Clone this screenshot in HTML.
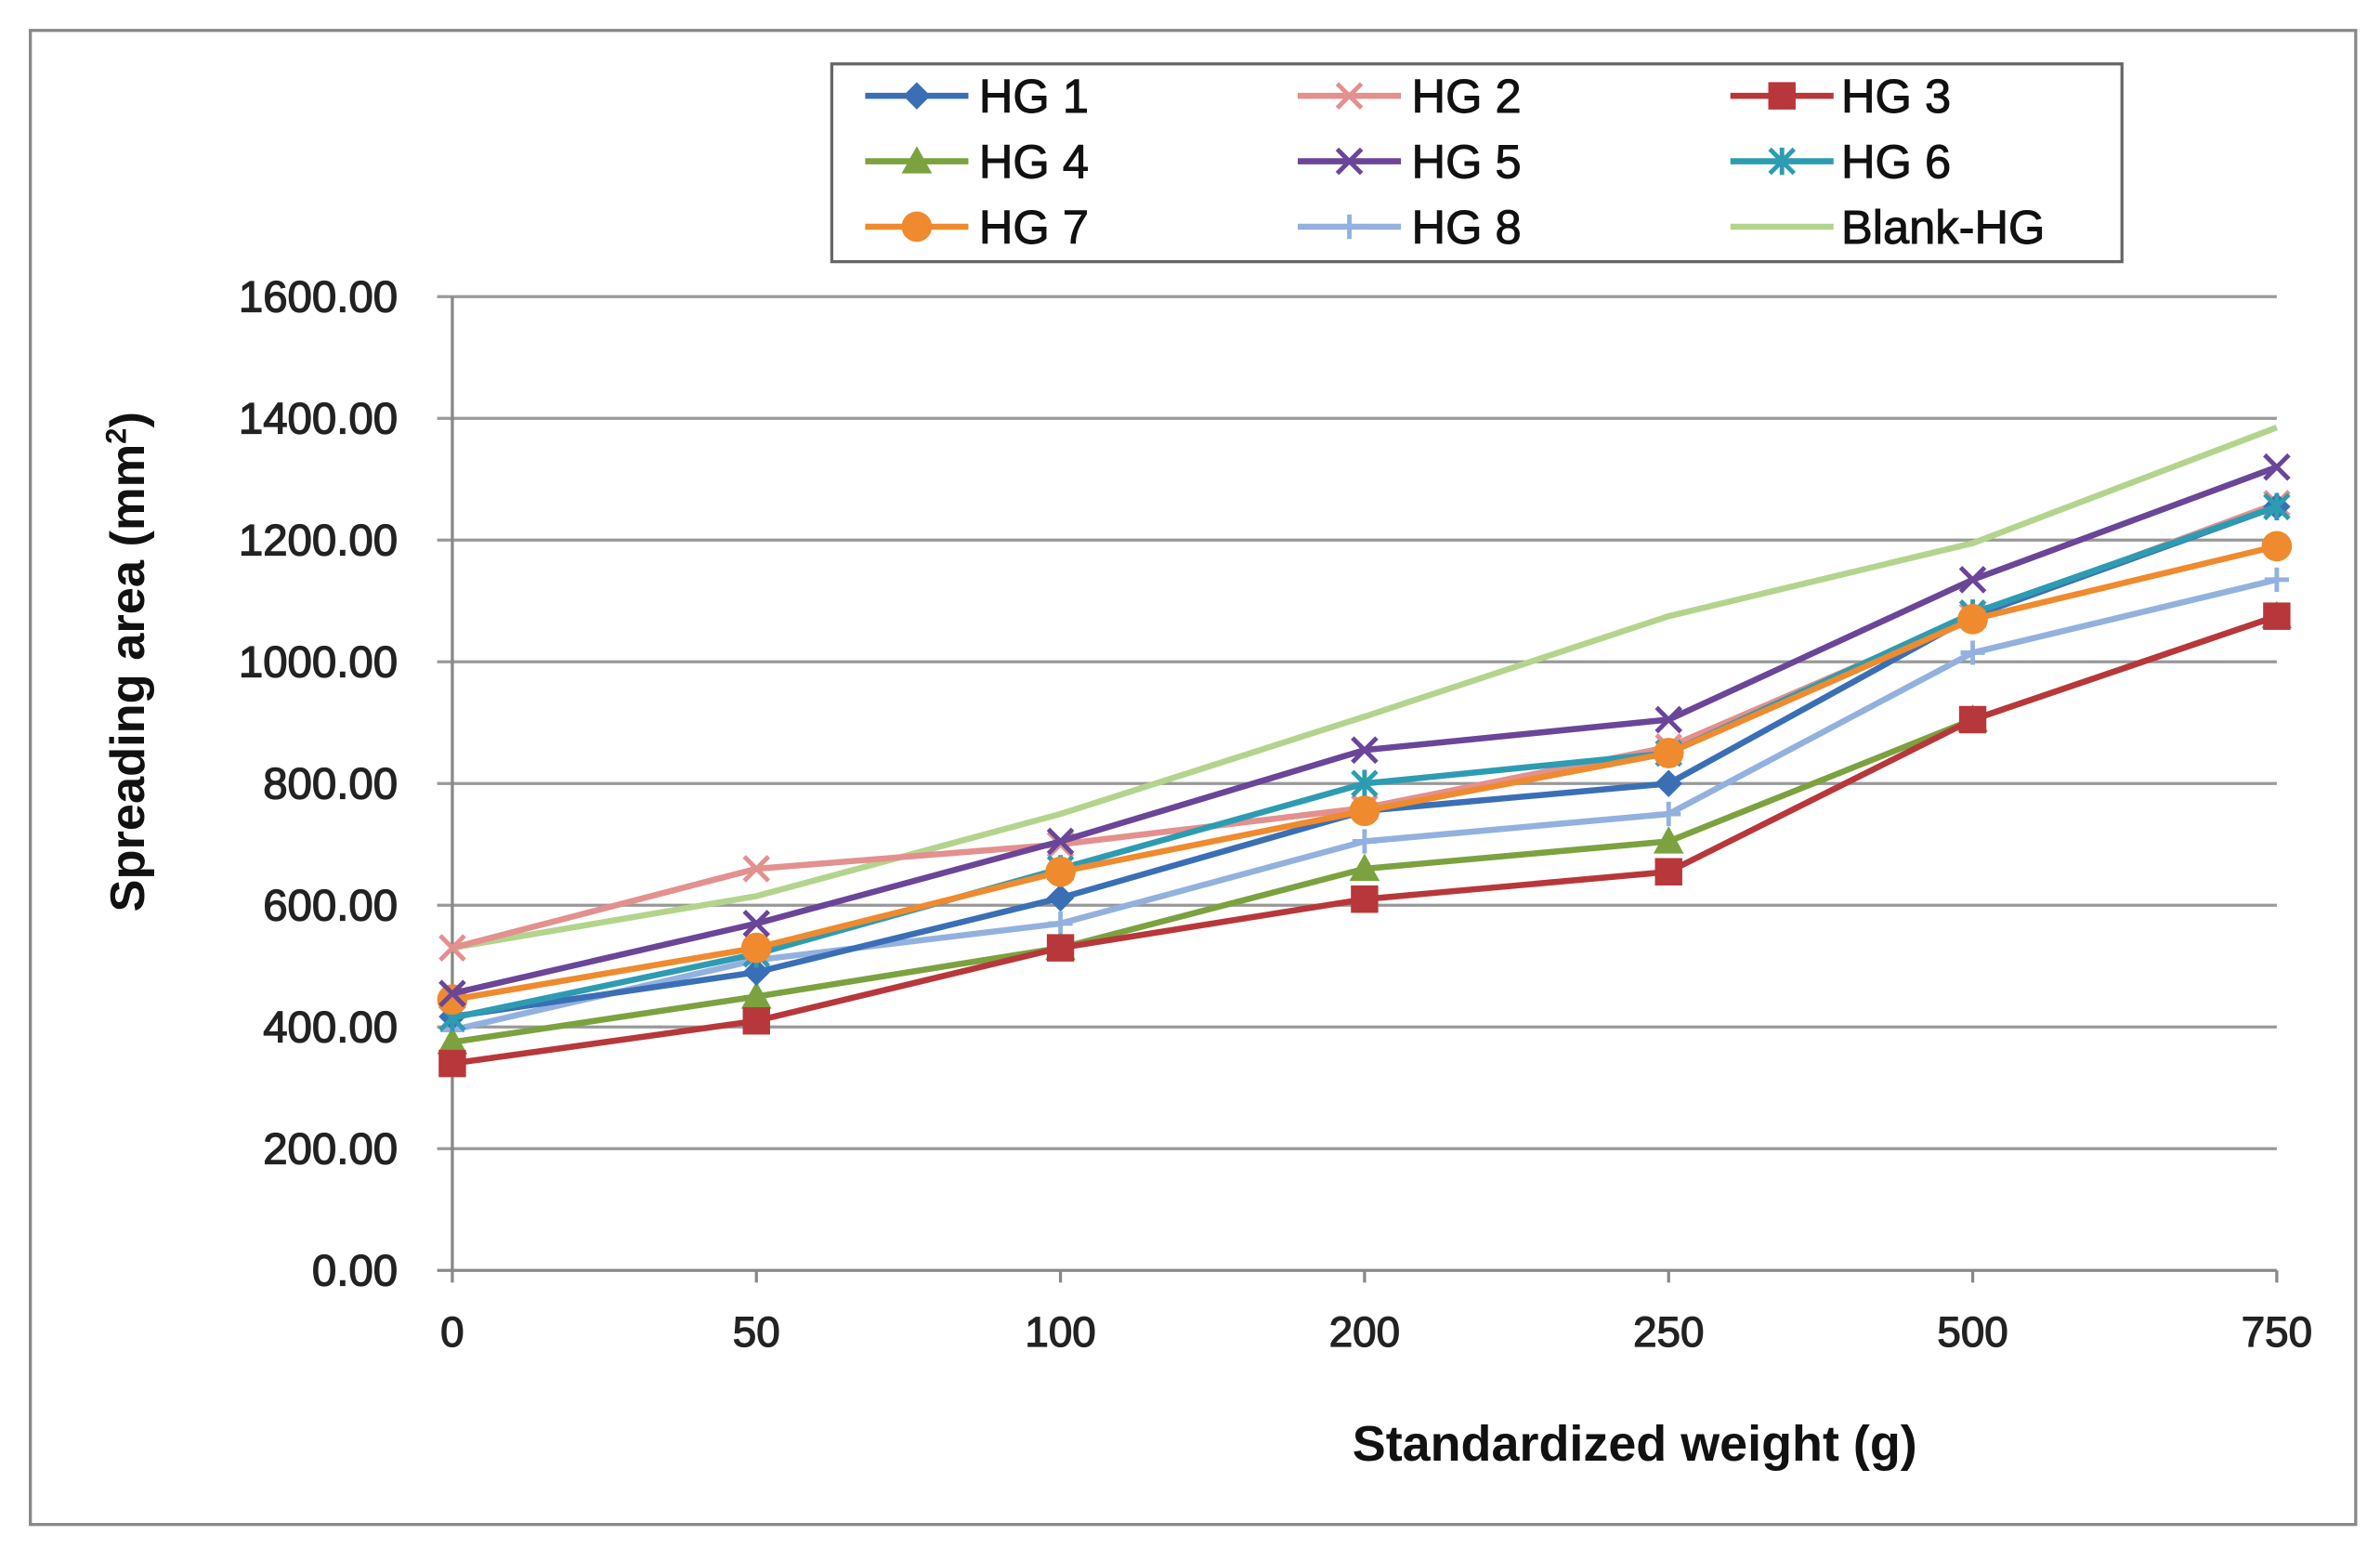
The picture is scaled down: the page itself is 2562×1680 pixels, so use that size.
<!DOCTYPE html>
<html><head><meta charset="utf-8"><style>
html,body{margin:0;padding:0;background:#fff;}
svg{display:block;font-family:"Liberation Sans",Arial,sans-serif;}
</style></head><body>
<svg id="chart" width="2562" height="1680" viewBox="0 0 1568 1026" preserveAspectRatio="none" xmlns="http://www.w3.org/2000/svg">
<rect x="20" y="20" width="1532" height="982" fill="#fff" stroke="#888" stroke-width="2"/>
<g id="grid"></g><g id="axes"></g><g id="series"></g>
<text x="1077" y="960" font-size="33" font-weight="bold" text-anchor="middle" fill="#111">Standardized weight (g)</text>
<text transform="translate(95,435) rotate(-90)" font-size="32" font-weight="bold" text-anchor="middle" fill="#111">Spreading area (mm<tspan font-size="19" dy="-12">2</tspan><tspan dy="12">)</tspan></text>
<g id="legend">
<rect x="548" y="42" width="850" height="130" fill="#fff" stroke="#666" stroke-width="2"/>
</g>
</svg>
<script>
const categories=["0","50","100","200","250","500","750"];
const yTicks=[0,200,400,600,800,1000,1200,1400,1600];
const seriesNames=["HG 1","HG 2","HG 3","HG 4","HG 5","HG 6","HG 7","HG 8","Blank-HG"];
const hg1=[417,490,612,755,800,1075,1255];
const hg2=[530,660,700,760,860,1075,1260];
const hg3=[340,410,530,610,655,905,1075];
const hg4=[375,450,530,660,705,905,1075];
const hg5=[455,570,705,855,905,1135,1320];
const hg6=[415,520,660,800,850,1080,1255];
const hg7=[445,530,655,755,850,1070,1190];
const hg8=[395,510,570,705,750,1015,1135];
const blank=[530,615,750,910,1075,1195,1385];
const NS="http://www.w3.org/2000/svg";
const X0=298,X1=1500,Y0=835,Y1=195;
function xs(i){return X0+i*(X1-X0)/(categories.length-1);}
function ys(v){return Y0-(v/1600)*(Y0-Y1);}
function mk(tag,attrs,parent){const e=document.createElementNS(NS,tag);for(const k in attrs)e.setAttribute(k,attrs[k]);parent.appendChild(e);return e;}
const grid=document.getElementById('grid'),axes=document.getElementById('axes'),ser=document.getElementById('series'),leg=document.getElementById('legend');
yTicks.forEach(t=>{
  const l=mk('line',{x1:288,x2:X1,y1:ys(t),y2:ys(t),stroke:t===0?'#888':'#999','stroke-width':2},grid);
  
  
  const tx=mk('text',{x:262,y:ys(t)+10,'font-size':29,'text-anchor':'end',fill:'#222',stroke:'#222','stroke-width':0.8},axes);
  tx.textContent=t.toFixed(2);
  
  
});
const ya=mk('line',{x1:X0,x2:X0,y1:Y1,y2:Y0,stroke:'#888','stroke-width':2},axes);


categories.forEach((c,i)=>{
  const tk=mk('line',{x1:xs(i),x2:xs(i),y1:Y0,y2:Y0+8,stroke:'#888','stroke-width':2},axes);
  
  
  const tx=mk('text',{x:xs(i),y:885,'font-size':28,'text-anchor':'middle',fill:'#222',stroke:'#222','stroke-width':0.8},axes);
  tx.textContent=c;
  
  
});
const defs=[
 {d:hg1,c:'#3a6fb5',m:'diamond'},{d:hg2,c:'#e3908f',m:'x'},{d:hg3,c:'#b8373a',m:'square'},
 {d:hg4,c:'#7ba23f',m:'triangle'},{d:hg5,c:'#6a4598',m:'x'},{d:hg6,c:'#2d9cb2',m:'star'},
 {d:hg7,c:'#ef8a2e',m:'circle'},{d:hg8,c:'#93b1de',m:'plus'},{d:blank,c:'#b3d48c',m:'none'}];
function marker(g,type,x,y,c){
  if(type==='diamond')mk('polygon',{points:`${x},${y-9} ${x+9},${y} ${x},${y+9} ${x-9},${y}`,fill:c},g);
  else if(type==='square')mk('rect',{x:x-9,y:y-9,width:18,height:18,fill:c},g);
  else if(type==='triangle')mk('polygon',{points:`${x},${y-10} ${x+10},${y+8} ${x-10},${y+8}`,fill:c},g);
  else if(type==='circle')mk('circle',{cx:x,cy:y,r:10,fill:c},g);
  else if(type==='x'){mk('path',{d:`M${x-8},${y-8}L${x+8},${y+8}M${x-8},${y+8}L${x+8},${y-8}`,stroke:c,'stroke-width':3},g);}
  else if(type==='star'){mk('path',{d:`M${x-8},${y-8}L${x+8},${y+8}M${x-8},${y+8}L${x+8},${y-8}M${x},${y-9}L${x},${y+9}`,stroke:c,'stroke-width':3},g);}
  else if(type==='plus'){mk('path',{d:`M${x-8},${y}L${x+8},${y}M${x},${y-8}L${x},${y+8}`,stroke:c,'stroke-width':3},g);}
}
const order=[8,1,7,3,2,0,5,6,4];
order.forEach(si=>{
  const s=defs[si];
  const g=mk('g',{},ser);
  
  
  const pts=s.d.map((v,i)=>xs(i)+','+ys(v)).join(' ');
  mk('polyline',{points:pts,fill:'none',stroke:s.c,'stroke-width':4},g);
  s.d.forEach((v,i)=>marker(g,s.m,xs(i),ys(v),s.c));
});
const colLine=[570,855,1140],colText=[645,930,1213],rowY=[63,106,149];
seriesNames.forEach((n,i)=>{
  const s=defs[i],r=Math.floor(i/3),c=i%3;
  const g=mk('g',{},leg);
  
  
  mk('line',{x1:colLine[c],x2:colLine[c]+68,y1:rowY[r],y2:rowY[r],stroke:s.c,'stroke-width':4},g);
  marker(g,s.m,colLine[c]+34,rowY[r],s.c);
  const t=mk('text',{x:colText[c],y:rowY[r]+11,'font-size':31,fill:'#111',stroke:'#111','stroke-width':0.6},g);
  t.textContent=n;
});
</script>
</body></html>
